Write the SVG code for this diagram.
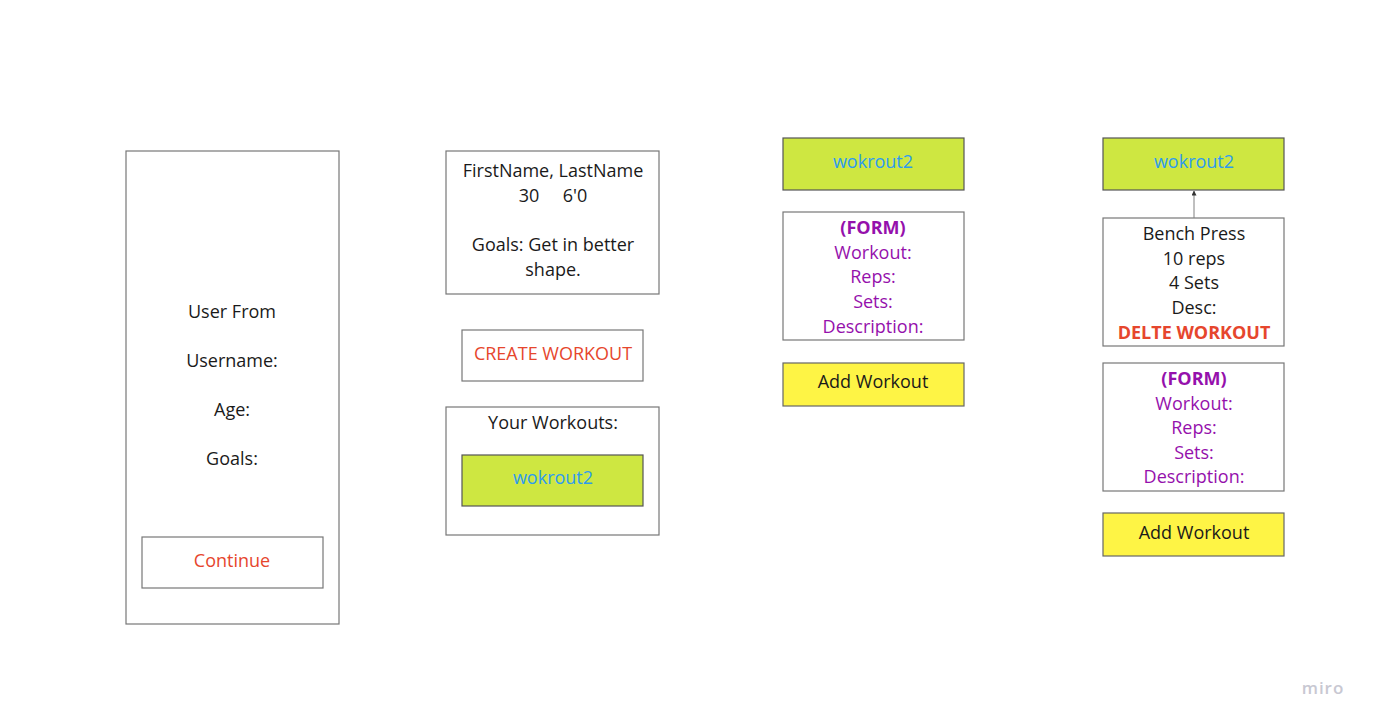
<svg xmlns="http://www.w3.org/2000/svg" width="1378" height="725" viewBox="0 0 1378 725">
<style>
.box{fill:#ffffff;stroke:#777777;stroke-width:1.2}
.green{fill:#cee741;stroke:#555;stroke-width:1.2}
.yellow{fill:#fef445;stroke:#666;stroke-width:1.2}
text{font-family:"Open Sans","Noto Sans","Liberation Sans",sans-serif;font-size:18px;text-anchor:middle;dominant-baseline:central;fill:#1a1a1a}
.red{fill:#e6462d}
.blue{fill:#2d9bf0}
.purple{fill:#9510ac}
.bold{font-weight:bold}
.conn{stroke:#808080;stroke-width:1;fill:none}
</style>
<defs>
<marker id="arr" viewBox="0 0 10 10" refX="9" refY="5" markerWidth="5" markerHeight="5" orient="auto">
<path d="M0,0 L10,5 L0,10 z" fill="#333"/>
</marker>
<clipPath id="c1"><rect x="783" y="212" width="181" height="124"/></clipPath>
<clipPath id="c2"><rect x="1103" y="363" width="181" height="124"/></clipPath>
</defs>
<rect width="1378" height="725" fill="#ffffff"/>

<g id="user-form">
<rect class="box" x="126" y="151" width="213" height="473"/>
<text x="232" y="311">User From</text>
<text x="232" y="360">Username:</text>
<text x="232" y="409">Age:</text>
<text x="232" y="458">Goals:</text>
</g>
<g id="continue">
<rect class="box" x="142" y="537" width="181" height="51"/>
<text class="red" x="232" y="560">Continue</text>
</g>

<g id="profile">
<rect class="box" x="446" y="151" width="213" height="143"/>
<text x="553" y="170">FirstName, LastName</text>
<text x="553" y="195" xml:space="preserve">30     6'0</text>
<text x="553" y="244">Goals: Get in better</text>
<text x="553" y="269">shape.</text>
</g>
<g id="create-workout">
<rect class="box" x="462" y="330" width="181" height="51"/>
<text class="red" x="553" y="353">CREATE WORKOUT</text>
</g>
<g id="your-workouts">
<rect class="box" x="446" y="407" width="213" height="128"/>
<text x="553" y="422">Your Workouts:</text>
</g>
<g id="workout-item-1">
<rect class="green" x="462" y="455" width="181" height="51"/>
<text class="blue" x="553" y="477">wokrout2</text>
</g>

<g id="workout-header-2">
<rect class="green" x="783" y="138" width="181" height="52"/>
<text class="blue" x="873" y="161">wokrout2</text>
</g>
<g id="form-1">
<rect class="box" x="783" y="212" width="181" height="128"/>
<g clip-path="url(#c1)">
<text class="purple bold" x="873" y="227">(FORM)</text>
<text class="purple" x="873" y="252">Workout:</text>
<text class="purple" x="873" y="276">Reps:</text>
<text class="purple" x="873" y="301">Sets:</text>
<text class="purple" x="873" y="326">Description:</text>
</g>
</g>
<g id="add-workout-1">
<rect class="yellow" x="783" y="363" width="181" height="43"/>
<text x="873" y="381">Add Workout</text>
</g>

<g id="workout-header-3">
<rect class="green" x="1103" y="138" width="181" height="52"/>
<text class="blue" x="1194" y="161">wokrout2</text>
</g>
<g id="workout-detail">
<rect class="box" x="1103" y="218" width="181" height="128"/>
<text x="1194" y="233">Bench Press</text>
<text x="1194" y="258">10 reps</text>
<text x="1194" y="282">4 Sets</text>
<text x="1194" y="307">Desc:</text>
<text class="red bold" x="1194" y="332">DELTE WORKOUT</text>
</g>
<g id="form-2">
<rect class="box" x="1103" y="363" width="181" height="128"/>
<g clip-path="url(#c2)">
<text class="purple bold" x="1194" y="378">(FORM)</text>
<text class="purple" x="1194" y="403">Workout:</text>
<text class="purple" x="1194" y="427">Reps:</text>
<text class="purple" x="1194" y="452">Sets:</text>
<text class="purple" x="1194" y="476">Description:</text>
</g>
</g>
<g id="add-workout-2">
<rect class="yellow" x="1103" y="513" width="181" height="43"/>
<text x="1194" y="532">Add Workout</text>
</g>

<g id="connectors">
<line class="conn" x1="1194" y1="218" x2="1194" y2="191" marker-end="url(#arr)"/>
</g>

<text x="1323" y="687" style="font-size:17px;fill:#c8c8d2;font-weight:600;letter-spacing:1px">miro</text>
</svg>
